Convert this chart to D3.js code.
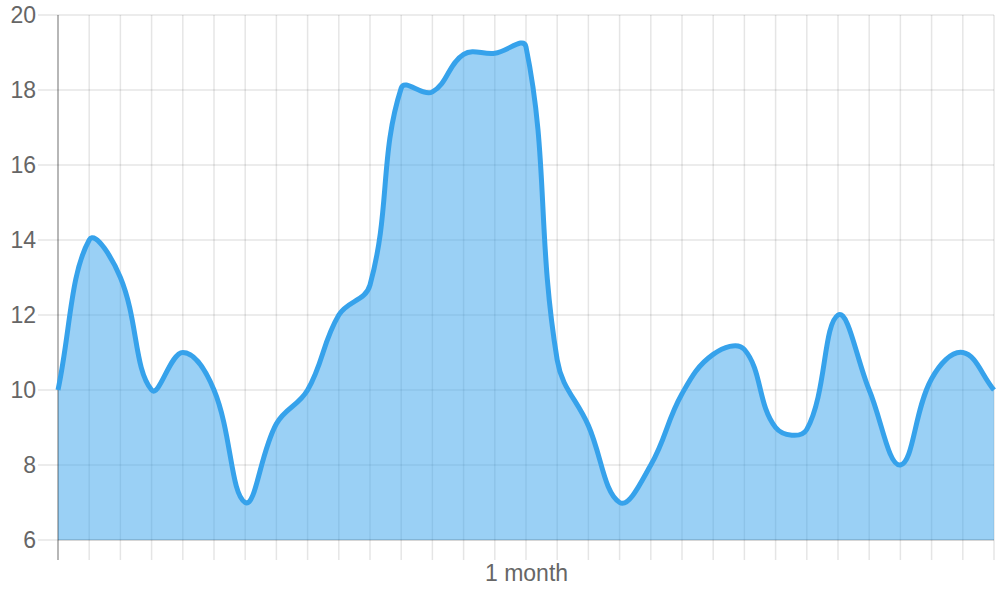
<!DOCTYPE html>
<html>
<head>
<meta charset="utf-8">
<script src="https://cdn.jsdelivr.net/npm/d3@7"></script>
<style>
  html, body { margin: 0; padding: 0; background: #fff; }
  svg { display: block; font-family: "Liberation Sans", Arial, sans-serif; }
</style>
</head>
<body>
<svg id="chart" width="1000" height="600"></svg>
<script>
// ---- data ----
const days = d3.range(0, 31);
const values = [10, 14, 13, 10, 11, 10, 7, 9.1, 10, 12, 12.8, 18.05, 17.95, 18.95, 18.98, 19.15, 10.8, 9.05, 7, 8, 9.9, 10.95, 11.08, 9, 8.95, 12, 10, 8, 10.3, 11, 10];
const yTicks = [6, 8, 10, 12, 14, 16, 18, 20];
const xTickLabels = ["1 month"];
const xTickLabelDays = [15];

// ---- layout ----
const plotL = 58, plotR = 994, plotT = 15, plotB = 540;
const svg = d3.select("#chart");

const x = d3.scaleLinear().domain([0, 30]).range([plotL, plotR]);
const y = d3.scaleLinear().domain([6, 20]).range([plotB, plotT]);

const gridColor = "rgba(0,0,0,0.1)";

// grid
const g = svg.append("g");
g.selectAll("line.hg").data(yTicks).enter().append("line")
  .attr("x1", plotL - 20).attr("x2", plotR)
  .attr("y1", d => y(d)).attr("y2", d => y(d))
  .attr("stroke", gridColor).attr("stroke-width", 1.5);
g.selectAll("line.vg").data(days).enter().append("line")
  .attr("x1", d => x(d)).attr("x2", d => x(d))
  .attr("y1", plotT).attr("y2", plotB + 20)
  .attr("stroke", gridColor).attr("stroke-width", 1.5);

// y axis labels
const yAxis = d3.axisLeft(y).tickValues(yTicks).tickSize(0).tickPadding(0);
const ya = svg.append("g").attr("transform", `translate(${plotL - 22},0)`).call(yAxis);
ya.select(".domain").remove();
ya.selectAll("text").attr("font-size", 23).attr("fill", "#666")
  .attr("font-family", "'Liberation Sans', Arial, sans-serif");

// x axis label
const xAxis = d3.axisBottom(x).tickValues(xTickLabelDays)
  .tickFormat((d, i) => xTickLabels[i]).tickSize(0).tickPadding(0);
const xa = svg.append("g").attr("transform", `translate(0,${plotB + 25})`).call(xAxis);
xa.select(".domain").remove();
xa.selectAll("text").attr("font-size", 23).attr("fill", "#666")
  .attr("font-family", "'Liberation Sans', Arial, sans-serif");

// ---- Chart.js-like spline (tension 0.4) ----
const pts = values.map((v, i) => ({ x: x(days[i]), y: y(v) }));
const tension = 0.4;
pts.forEach((p, i) => {
  const prev = pts[i - 1] || p, next = pts[i + 1] || p;
  const d01 = Math.hypot(p.x - prev.x, p.y - prev.y);
  const d12 = Math.hypot(next.x - p.x, next.y - p.y);
  let s01 = d01 / (d01 + d12), s12 = d12 / (d01 + d12);
  if (isNaN(s01)) s01 = 0; if (isNaN(s12)) s12 = 0;
  const fa = tension * s01, fb = tension * s12;
  p.cpPrev = { x: p.x - fa * (next.x - prev.x), y: p.y - fa * (next.y - prev.y) };
  p.cpNext = { x: p.x + fb * (next.x - prev.x), y: p.y + fb * (next.y - prev.y) };
  [p.cpPrev, p.cpNext].forEach(c => {
    c.x = Math.max(plotL, Math.min(plotR, c.x));
    c.y = Math.max(plotT, Math.min(plotB, c.y));
  });
});
function linePath(ctx) {
  ctx.moveTo(pts[0].x, pts[0].y);
  for (let i = 1; i < pts.length; i++) {
    const a = pts[i - 1], b = pts[i];
    ctx.bezierCurveTo(a.cpNext.x, a.cpNext.y, b.cpPrev.x, b.cpPrev.y, b.x, b.y);
  }
  return ctx;
}
const lp = linePath(d3.path());
const ap = linePath(d3.path());
ap.lineTo(pts[pts.length - 1].x, y(6));
ap.lineTo(pts[0].x, y(6));
ap.closePath();

svg.append("path").attr("d", ap.toString())
  .attr("fill", "rgba(54,162,235,0.5)");

// axis lines
svg.append("line").attr("x1", plotL).attr("x2", plotR).attr("y1", plotB).attr("y2", plotB)
  .attr("stroke", "rgba(0,0,0,0.12)").attr("stroke-width", 1.5);
svg.append("line").attr("x1", plotL).attr("x2", plotL).attr("y1", plotT).attr("y2", plotB + 20)
  .attr("stroke", "rgba(0,0,0,0.3)").attr("stroke-width", 1.5);

svg.append("path").attr("d", lp.toString())
  .attr("fill", "none").attr("stroke", "#36a2eb").attr("stroke-width", 5)
  .attr("stroke-linejoin", "round").attr("stroke-linecap", "butt");
</script>
</body>
</html>
